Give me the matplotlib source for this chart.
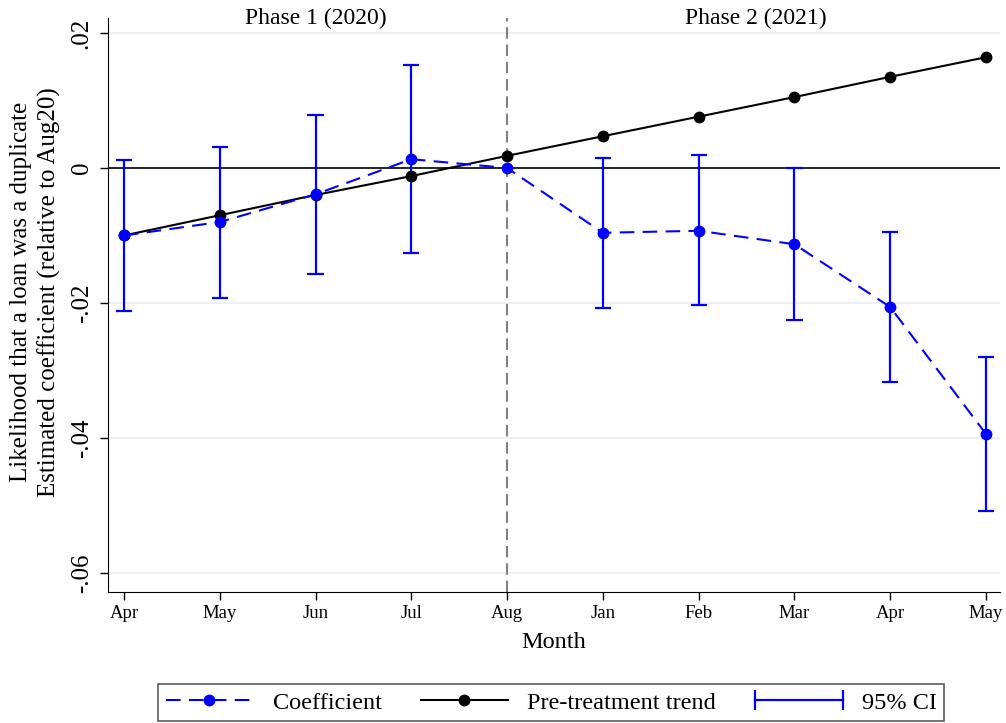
import matplotlib
matplotlib.use("Agg")
import matplotlib.pyplot as plt
from matplotlib.legend_handler import HandlerLine2D
from matplotlib.lines import Line2D

plt.rcParams['font.family'] = ['Liberation Serif', 'DejaVu Serif']

# data
months = ['Apr', 'May', 'Jun', 'Jul', 'Aug', 'Jan', 'Feb', 'Mar', 'Apr', 'May']
coef = [-0.0100, -0.0080, -0.0039, 0.0013, 0.0000, -0.0096, -0.0093, -0.0113, -0.0206, -0.0394]
ci_low = [-0.0212, -0.0193, -0.0157, -0.0126, None, -0.0207, -0.0203, -0.0225, -0.0317, -0.0508]
ci_high = [0.0012, 0.0031, 0.0079, 0.0153, None, 0.0015, 0.0019, 0.0000, -0.0095, -0.0280]
trend = [-0.0100, -0.0070, -0.0040, -0.0012, 0.0018, 0.0047, 0.0076, 0.0105, 0.0135, 0.0164]
yticks = [0.02, 0, -0.02, -0.04, -0.06]
yticklabels = ['.02', '0', '-.02', '-.04', '-.06']

blue = '#0000ff'
dash = (0, (7, 4))
x = list(range(len(months)))

fig = plt.figure(figsize=(10.06, 7.23), dpi=100)
ax = fig.add_axes([0.1074, 0.1812, 0.8866, 0.7938])

# grid lines
for yv in yticks:
    if yv != 0:
        ax.axhline(yv, color='#e6eef2', lw=1.2, zorder=0)
ax.axhline(0, color='black', lw=1.2, zorder=1)
ax.axvline(4, color='#808080', lw=1.5, ls=(0, (5.5, 2.8)), zorder=1)

# confidence intervals
ci_x = [xi for xi, lo in zip(x, ci_low) if lo is not None]
lo = [v for v in ci_low if v is not None]
hi = [v for v in ci_high if v is not None]
ax.vlines(ci_x, lo, hi, color=blue, lw=1.6, zorder=2)
ax.hlines(lo, [c - 0.085 for c in ci_x], [c + 0.085 for c in ci_x], color=blue, lw=1.6, zorder=2)
ax.hlines(hi, [c - 0.085 for c in ci_x], [c + 0.085 for c in ci_x], color=blue, lw=1.6, zorder=2)

ax.plot(x, trend, color='black', lw=1.5, marker='o', ms=7.5, zorder=3)
ax.plot(x, coef, color=blue, lw=1.5, ls=dash, marker='o', ms=7.5, zorder=4)

ax.set_xlim(-0.167, 9.146)
ax.set_ylim(-0.0628, 0.0222)
ax.set_xticks(x)
ax.set_xticklabels(months, fontsize=13.5)
ax.set_yticks(yticks)
ax.set_yticklabels(yticklabels, fontsize=18, rotation=90, va='center')
ax.tick_params(length=6, width=1, color='black')
ax.tick_params(axis='y', pad=5)
ax.spines['top'].set_visible(False)
ax.spines['right'].set_visible(False)
ax.set_xlabel('Month', fontsize=17.5, labelpad=7)
fig.text(0.035, 0.596, 'Likelihood that a loan was a duplicate\nEstimated coefficient (relative to Aug20)',
         rotation=90, ha='center', va='center', fontsize=18, linespacing=1.3)

ax.text(2, 0.0222, 'Phase 1 (2020)', ha='center', va='center', fontsize=17)
ax.text(6.6, 0.0222, 'Phase 2 (2021)', ha='center', va='center', fontsize=17)

h_coef = Line2D([], [], color=blue, lw=1.5, ls=dash, marker='o', ms=7.5)
h_trend = Line2D([], [], color='black', lw=1.5, marker='o', ms=7.5)
h_ci = Line2D([], [], color=blue, lw=1.6, marker='|', ms=14, mew=1.6)
leg = fig.legend([h_coef, h_trend, h_ci], ['Coefficient', 'Pre-treatment trend', '95% CI'],
                 loc='center', bbox_to_anchor=(0.548, 0.028), ncol=3, fontsize=17.5,
                 handlelength=3.6, handletextpad=0.8, columnspacing=1.6, frameon=True,
                 fancybox=False, edgecolor='#333333', borderpad=0.3, borderaxespad=0,
                 numpoints=1,
                 handler_map={h_ci: HandlerLine2D(numpoints=2, marker_pad=0)})
leg.get_frame().set_linewidth(1.2)

fig.savefig('out.png', dpi=100, facecolor='white')
